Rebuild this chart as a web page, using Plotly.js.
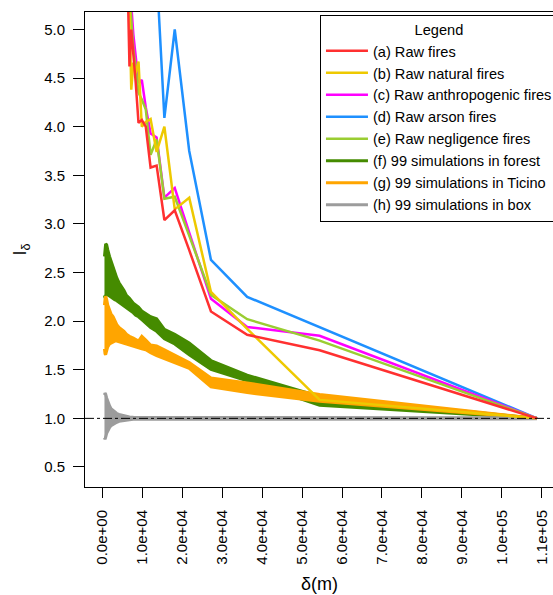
<!DOCTYPE html>
<html>
<head>
<meta charset="utf-8">
<script src="https://cdn.plot.ly/plotly-3.0.1.min.js"></script>
<style>
  html, body { margin: 0; padding: 0; overflow: hidden; background: #ffffff; }
  #chart { width: 600px; height: 595px; }
</style>
</head>
<body>
<div id="chart"></div>
<script>
// Morisita index I_delta against quadrat size delta (m), grid of k x k cells over the study window.

// delta values of the raw-fire curves (k = 1..20, 25, 30, 40)
const deltaRaw = [108800, 54400, 36267, 27200, 21760, 18133, 15543, 13600, 12089, 10880,
                  9891, 9067, 8369, 7771, 7253, 6800, 6400, 6044, 5726, 5440, 4352, 3627, 2720];

const rawFires        = [1.00, 1.70, 1.86, 2.10, 2.73, 3.14, 3.04, 3.60, 3.58, 4.00, 4.07, 4.04, 4.45, 4.75, 5.00, 4.62, 5.30, 5.70, 6.20, 6.60, 8.00, 9.50, 12.5];
const rawNatural      = [1.00, 1.19, 1.92, 2.30, 3.27, 3.15, 4.00, 3.74, 4.08, 4.05, 4.00, 4.67, 4.55, 4.66, 4.38, 5.10, 5.60, 6.00, 6.30, 6.80, 8.20, 9.80, 13.0];
const rawAnthropogenic= [1.00, 1.85, 1.94, 2.23, 2.91, 3.37, 3.27, 3.89, 3.93, 4.20, 4.48, 4.45, 4.72, 4.95, 5.25, 5.60, 5.90, 6.30, 6.60, 7.00, 8.50, 10.0, 13.5];
const rawArson        = [1.00, 1.94, 2.25, 2.63, 3.75, 5.00, 4.09, 5.60, 6.30, 6.90, 7.40, 7.90, 8.40, 8.90, 9.40, 9.90, 10.4, 10.9, 11.4, 11.9, 13.5, 15.5, 19.0];
const rawNegligence   = [1.00, 1.80, 2.02, 2.27, 2.88, 3.28, 3.26, 3.87, 3.71, 4.18, 4.28, 4.35, 4.60, 4.80, 5.10, 5.35, 5.70, 6.00, 6.40, 6.80, 8.30, 9.80, 13.2];

// delta values of the simulation envelopes
const deltaSim = [108800, 54400, 36267, 27200, 21760, 18133, 15543, 13600, 12089, 10880, 9891, 9067, 8369, 7771,
                  6800, 6044, 5440, 4730, 4185, 3627, 3109, 2720,
                  2176, 1813, 1360, 1088, 837, 680, 544];

// range (min / max) of the 99 simulations
const forestLow  = [1.000, 1.135, 1.385, 1.505, 1.655, 1.765, 1.820, 1.895, 1.935, 1.985, 2.015, 2.045, 2.060, 2.085,
                    2.115, 2.140, 2.150, 2.175, 2.195, 2.210, 2.220, 2.230, 2.250, 2.260, 2.270, 2.280, 2.255, 2.240, 2.265];
const forestHigh = [1.000, 1.225, 1.445, 1.595, 1.775, 1.865, 1.915, 2.025, 2.045, 2.075, 2.105, 2.145, 2.165, 2.185,
                    2.235, 2.265, 2.315, 2.355, 2.395, 2.445, 2.505, 2.545, 2.615, 2.665, 2.735, 2.785, 2.795, 2.745, 2.665];
const ticinoLow  = [1.000, 1.175, 1.265, 1.325, 1.515, 1.570, 1.615, 1.645, 1.675, 1.705, 1.715, 1.725, 1.735, 1.745,
                    1.755, 1.765, 1.775, 1.785, 1.785, 1.795, 1.795, 1.785, 1.775, 1.765, 1.735, 1.675, 1.655, 1.665, 1.715];
const ticinoHigh = [1.000, 1.245, 1.365, 1.415, 1.575, 1.655, 1.705, 1.745, 1.755, 1.805, 1.845, 1.795, 1.815, 1.825,
                    1.845, 1.865, 1.895, 1.915, 1.935, 1.965, 2.015, 2.045, 2.075, 2.115, 2.165, 2.225, 2.255, 2.225, 2.165];
const boxLow     = [0.995, 0.993, 0.993, 0.993, 0.993, 0.993, 0.993, 0.993, 0.993, 0.993, 0.993, 0.990, 0.990, 0.990,
                    0.985, 0.982, 0.980, 0.975, 0.970, 0.960, 0.950, 0.940, 0.925, 0.905, 0.875, 0.845, 0.805, 0.785, 0.800];
const boxHigh    = [1.005, 1.007, 1.007, 1.007, 1.007, 1.007, 1.007, 1.007, 1.007, 1.007, 1.007, 1.010, 1.010, 1.012,
                    1.015, 1.020, 1.025, 1.030, 1.040, 1.050, 1.065, 1.080, 1.100, 1.130, 1.170, 1.210, 1.250, 1.260, 1.240];

const xTickVals  = [0, 10000, 20000, 30000, 40000, 50000, 60000, 70000, 80000, 90000, 100000, 110000];
const xTickText  = ['0.0e+00', '1.0e+04', '2.0e+04', '3.0e+04', '4.0e+04', '5.0e+04',
                    '6.0e+04', '7.0e+04', '8.0e+04', '9.0e+04', '1.0e+05', '1.1e+05'];
const yTickVals  = [0.5, 1.0, 1.5, 2.0, 2.5, 3.0, 3.5, 4.0, 4.5, 5.0];

const FONT = '"Liberation Sans", Arial, Helvetica, sans-serif';

function band(name, color, low, high, rank) {
  return [
    { x: deltaSim, y: high, type: 'scatter', mode: 'lines', name: name,
      line: { color: color, width: 3 }, legendgroup: name, legendrank: rank, hoverinfo: 'skip' },
    { x: deltaSim, y: low, type: 'scatter', mode: 'lines', name: name,
      line: { color: color, width: 3 }, fill: 'tonexty', fillcolor: color,
      legendgroup: name, showlegend: false, hoverinfo: 'skip' }
  ];
}

function rawLine(name, color, values, rank) {
  return { x: deltaRaw, y: values, type: 'scatter', mode: 'lines', name: name,
           line: { color: color, width: 2.5 }, legendrank: rank };
}

const traces = [
  ...band('(f) 99 simulations in forest', '#458B00', forestLow, forestHigh, 6),
  ...band('(g) 99 simulations in Ticino', '#FFA500', ticinoLow, ticinoHigh, 7),
  ...band('(h) 99 simulations in box', '#9C9C9C', boxLow, boxHigh, 8),
  rawLine('(d) Raw arson fires', '#1E90FF', rawArson, 4),
  rawLine('(c) Raw anthropogenic fires', '#FF00FF', rawAnthropogenic, 3),
  rawLine('(e) Raw negligence fires', '#9ACD32', rawNegligence, 5),
  rawLine('(b) Raw natural fires', '#EEC900', rawNatural, 2),
  rawLine('(a) Raw fires', '#FF3030', rawFires, 1)
];

// plot frame spans x 85..554 px; the page is cut at 553 px, so the wider
// canvas only leaves room for the legend box to run past the visible edge
const layout = {
  width: 600, height: 595,
  margin: { l: 85, r: 46, t: 12, b: 108 },
  paper_bgcolor: '#ffffff', plot_bgcolor: '#ffffff',
  font: { family: FONT, color: '#000000', size: 15 },
  showlegend: true,
  legend: {
    x: 0.501, xanchor: 'left', y: 0.994, yanchor: 'top',
    bgcolor: '#ffffff', bordercolor: '#000000', borderwidth: 1,
    font: { family: FONT, size: 14.6, color: '#000000' },
    title: { text: 'Legend', side: 'top center', font: { family: FONT, size: 14.6 } },
    traceorder: 'normal', itemwidth: 42
  },
  xaxis: {
    range: [-4330, 113066], autorange: false,
    tickmode: 'array', tickvals: xTickVals, ticktext: xTickText, tickangle: -90,
    ticks: 'outside', ticklen: 10, tickwidth: 1, tickcolor: '#000000',
    ticklabelstandoff: 6,
    tickfont: { family: FONT, size: 15, color: '#000000' },
    showline: true, linecolor: '#000000', linewidth: 1, mirror: true,
    showgrid: false, zeroline: false,
    title: { text: 'δ(m)', font: { family: FONT, size: 18 }, standoff: 13 }
  },
  yaxis: {
    range: [0.294, 5.18], autorange: false,
    tickmode: 'array', tickvals: yTickVals, tickformat: '.1f',
    ticks: 'outside', ticklen: 11, tickwidth: 1, tickcolor: '#000000',
    ticklabelstandoff: 5,
    tickfont: { family: FONT, size: 15, color: '#000000' },
    showline: true, linecolor: '#000000', linewidth: 1, mirror: true,
    showgrid: false, zeroline: false,
    title: { text: 'I<sub>δ</sub>', font: { family: FONT, size: 18 }, standoff: 12 }
  },
  shapes: [
    { type: 'line', xref: 'paper', x0: 0, x1: 1, yref: 'y', y0: 1, y1: 1,
      line: { color: '#000000', width: 1, dash: 'dashdot' }, layer: 'above' }
  ]
};

Plotly.newPlot('chart', traces, layout, { staticPlot: true, displayModeBar: false });
</script>
</body>
</html>
